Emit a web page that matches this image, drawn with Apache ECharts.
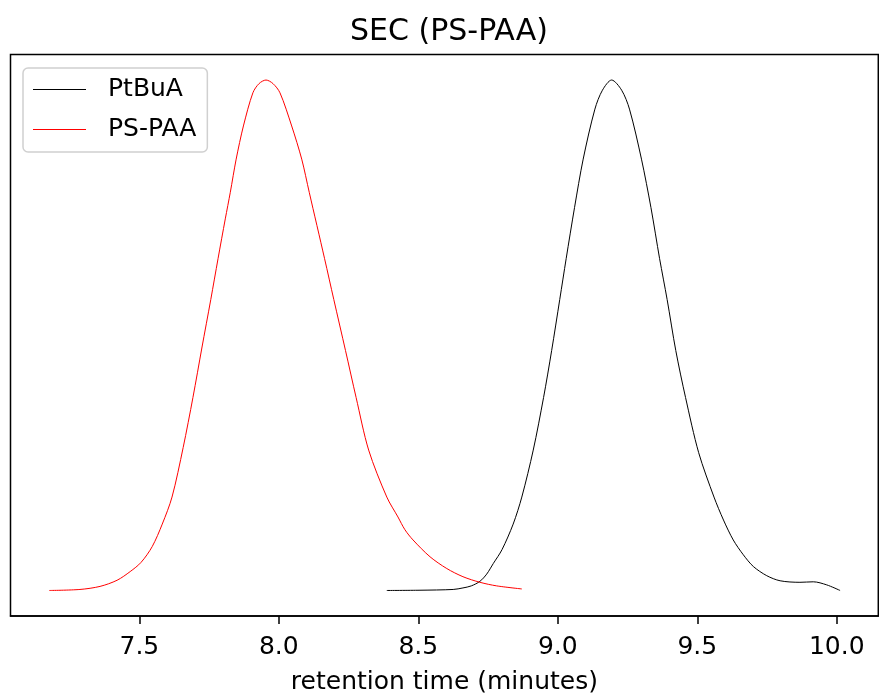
<!DOCTYPE html>
<html><head><meta charset="utf-8">
<script src="https://cdn.jsdelivr.net/npm/echarts@6/dist/echarts.min.js"></script>
<style>html,body{margin:0;padding:0;background:#fff}#c{width:879px;height:700px}</style>
</head><body><div id="c"></div>
<script>
const titleText = 'SEC (PS-PAA)';
const xAxisName = 'retention time (minutes)';
const tickValues = [7.5, 8.0, 8.5, 9.0, 9.5, 10.0];
const seriesNames = ['PtBuA', 'PS-PAA'];

const ptbuaTime = [8.387, 8.506, 8.625, 8.660, 8.690, 8.721, 8.745, 8.769, 8.800, 8.840, 8.871, 8.912, 8.949, 8.978, 9.007, 9.030, 9.060, 9.091, 9.133, 9.160, 9.193, 9.229, 9.257, 9.300, 9.334, 9.365, 9.392, 9.423, 9.458, 9.505, 9.560, 9.594, 9.629, 9.665, 9.701, 9.749, 9.797, 9.868, 9.916, 9.964, 10.012];
const ptbuaSignal = [0, 0.0005, 0.002, 0.005, 0.009, 0.018, 0.032, 0.053, 0.08, 0.13, 0.183, 0.275, 0.378, 0.47, 0.57, 0.65, 0.75, 0.845, 0.943, 0.98, 1.0, 0.98, 0.943, 0.845, 0.75, 0.65, 0.57, 0.47, 0.378, 0.27, 0.183, 0.138, 0.099, 0.070, 0.047, 0.029, 0.019, 0.016, 0.017, 0.011, 0];

const pspaaTime = [7.177, 7.287, 7.359, 7.42, 7.467, 7.506, 7.546, 7.582, 7.617, 7.657, 7.692, 7.724, 7.756, 7.782, 7.808, 7.826, 7.847, 7.873, 7.907, 7.929, 7.954, 7.979, 8.004, 8.046, 8.082, 8.109, 8.164, 8.197, 8.239, 8.277, 8.322, 8.387, 8.427, 8.452, 8.481, 8.542, 8.602, 8.660, 8.721, 8.781, 8.871];
const pspaaSignal = [0, 0.002, 0.008, 0.02, 0.037, 0.055, 0.086, 0.13, 0.183, 0.28, 0.378, 0.475, 0.57, 0.65, 0.728, 0.78, 0.845, 0.91, 0.975, 0.993, 1.0, 0.993, 0.975, 0.91, 0.845, 0.78, 0.65, 0.57, 0.47, 0.378, 0.275, 0.183, 0.144, 0.119, 0.099, 0.066, 0.043, 0.027, 0.016, 0.009, 0.003];

const FONT = 'DejaVu Sans';
const zip = (a, b) => a.map((v, i) => [v, b[i]]);

const chart = echarts.init(document.getElementById('c'), null, {renderer: 'canvas'});
chart.setOption({
  animation: false,
  backgroundColor: '#fff',
  title: {
    text: titleText, left: 444, top: 12, textAlign: 'center',
    textStyle: {fontFamily: FONT, fontSize: 30, fontWeight: 'normal', color: '#000'}
  },
  legend: {
    orient: 'vertical', left: 23, top: 68,
    data: seriesNames,
    icon: 'rect', itemWidth: 53, itemHeight: 1.2, itemGap: 15,
    backgroundColor: 'rgba(255,255,255,0.8)',
    borderColor: '#d0d0d0', borderWidth: 1.5, borderRadius: 5,
    padding: [9, 11, 10, 10],
    textStyle: {fontFamily: FONT, fontSize: 25, color: '#000', padding: [0, 0, 0, 17]}
  },
  grid: {
    left: 10.5, right: 0.7, top: 54.5, bottom: 80,
    show: true, borderColor: '#000', borderWidth: 1.5, backgroundColor: 'transparent'
  },
  xAxis: {
    type: 'value', min: 7.038, max: 10.149,
    name: xAxisName, nameLocation: 'middle', nameGap: 54,
    nameTextStyle: {fontFamily: FONT, fontSize: 25, color: '#000'},
    axisLine: {show: true, onZero: false, lineStyle: {color: '#000', width: 1.5}},
    axisTick: {show: true, length: 8, lineStyle: {color: '#000', width: 1.5}, customValues: tickValues},
    axisLabel: {
      fontFamily: FONT, fontSize: 25, color: '#000', margin: 19,
      customValues: tickValues, formatter: v => v.toFixed(1)
    },
    splitLine: {show: false}
  },
  yAxis: {
    type: 'value', min: -0.05, max: 1.05,
    axisLine: {show: false}, axisTick: {show: false}, axisLabel: {show: false}, splitLine: {show: false}
  },
  series: [
    {
      name: seriesNames[0], type: 'line', data: zip(ptbuaTime, ptbuaSignal),
      symbol: 'none', smooth: 0.3,
      lineStyle: {color: '#000', width: 1}, itemStyle: {color: '#000'}
    },
    {
      name: seriesNames[1], type: 'line', data: zip(pspaaTime, pspaaSignal),
      symbol: 'none', smooth: 0.3,
      lineStyle: {color: '#ff0000', width: 1}, itemStyle: {color: '#ff0000'}
    }
  ]
});
</script>
</body></html>
